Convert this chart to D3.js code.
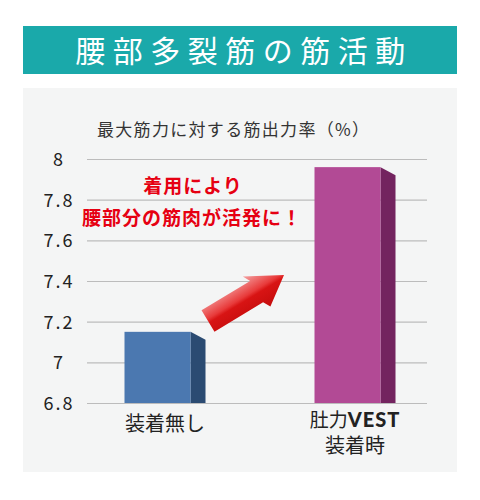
<!DOCTYPE html>
<html>
<head>
<meta charset="utf-8">
<script src="https://cdn.jsdelivr.net/npm/d3@7"></script>
<style>
  body { margin: 0; background: #fff; }
  svg { display: block; font-family: "Noto Sans CJK JP", "Noto Sans", sans-serif; }
</style>
</head>
<body>
<svg width="480" height="500"></svg>
<script>
// data
var categories = ['装着無し', '肚力VEST装着時'];
var values = [7.15, 7.96];
var frontColors = ['#4b78b0', '#b24a95'];
var sideColors = ['#2b4b72', '#73245f'];
var yTicks = [6.8, 7, 7.2, 7.4, 7.6, 7.8, 8];
var yTickLabels = ['6.8', '7', '7.2', '7.4', '7.6', '7.8', '8'];

var title = '腰部多裂筋の筋活動';
var subtitle = '最大筋力に対する筋出力率（%）';
var note = ['着用により', '腰部分の筋肉が活発に！'];

function drawChart() {
  var svg = d3.select('svg');
  svg.selectAll('*').remove();

  // title bar
  svg.append('rect')
    .attr('x', 23).attr('y', 26)
    .attr('width', 434).attr('height', 48)
    .attr('fill', '#1aa9aa');
  svg.append('text')
    .attr('x', 244).attr('y', 62)
    .attr('text-anchor', 'middle')
    .attr('fill', '#fff')
    .attr('font-size', 30)
    .attr('letter-spacing', 7.5)
    .text(title);

  // panel
  svg.append('rect')
    .attr('x', 23).attr('y', 88)
    .attr('width', 434).attr('height', 384)
    .attr('fill', '#f4f5f5');

  svg.append('text')
    .attr('x', 97).attr('y', 136)
    .attr('fill', '#333')
    .attr('font-size', 17)
    .attr('textLength', 272)
    .text(subtitle);

  var y = d3.scaleLinear()
    .domain([6.8, 8])
    .range([403, 159]);

  var x = d3.scaleBand()
    .domain(categories)
    .range([70, 450]);

  // grid + axis
  var axis = d3.axisLeft(y)
    .tickValues(yTicks)
    .tickFormat(function (d, i) {
      return yTickLabels[i];
    })
    .tickSize(-340)
    .tickPadding(0);
  var g = svg.append('g')
    .attr('transform', 'translate(87,0)')
    .call(axis);
  g.select('.domain').remove();
  g.selectAll('.tick line')
    .attr('stroke', '#bcbcbc')
    .attr('stroke-width', 1.2);
  g.selectAll('.tick text')
    .attr('x', -28)
    .attr('dy', '0.36em')
    .attr('text-anchor', 'middle')
    .attr('font-size', 18)
    .attr('letter-spacing', 2)
    .attr('font-family', '"Noto Sans CJK JP", sans-serif')
    .attr('fill', '#222');

  // bars (front + side)
  var frontW = 66;
  var depth = 15;
  var base = y(6.8);
  var bars = svg.append('g');
  values.forEach(function (v, i) {
    var left = x(categories[i]) + x.bandwidth() / 2 - (frontW + depth) / 2;
    var top = y(v);
    bars.append('polygon')
      .attr('points', [
        [left + frontW, top],
        [left + frontW + depth, top + 8],
        [left + frontW + depth, base],
        [left + frontW, base]
      ].join(' '))
      .attr('fill', sideColors[i]);
    bars.append('rect')
      .attr('x', left)
      .attr('y', top)
      .attr('width', frontW)
      .attr('height', base - top)
      .attr('fill', frontColors[i]);
  });

  // category labels
  var c0 = x(categories[0]) + x.bandwidth() / 2;
  var c1 = x(categories[1]) + x.bandwidth() / 2;
  svg.append('text')
    .attr('x', c0).attr('y', 431)
    .attr('text-anchor', 'middle')
    .attr('font-size', 20)
    .attr('fill', '#222')
    .text(categories[0]);
  var t1 = svg.append('text')
    .attr('x', c1).attr('y', 427)
    .attr('text-anchor', 'middle')
    .attr('fill', '#222');
  t1.append('tspan')
    .attr('font-size', 19)
    .text('肚力');
  t1.append('tspan')
    .attr('font-size', 20)
    .attr('font-weight', 900)
    .attr('font-family', 'Lato, "DejaVu Sans", sans-serif')
    .attr('letter-spacing', 1)
    .text('VEST');
  svg.append('text')
    .attr('x', c1).attr('y', 453)
    .attr('text-anchor', 'middle')
    .attr('font-size', 20)
    .attr('fill', '#222')
    .text('装着時');

  // red note
  svg.append('text')
    .attr('x', 193).attr('y', 193)
    .attr('text-anchor', 'middle')
    .attr('font-size', 19)
    .attr('font-weight', 'bold')
    .attr('letter-spacing', 1)
    .attr('fill', '#e60012')
    .text(note[0]);
  svg.append('text')
    .attr('x', 192).attr('y', 225)
    .attr('text-anchor', 'middle')
    .attr('font-size', 19)
    .attr('font-weight', 'bold')
    .attr('letter-spacing', 1)
    .attr('fill', '#e60012')
    .text(note[1]);

  // arrow
  var defs = svg.append('defs');
  var grad = defs.append('linearGradient')
    .attr('id', 'arrowGrad')
    .attr('x1', 0).attr('y1', 0)
    .attr('x2', 0).attr('y2', 1);
  grad.append('stop').attr('offset', '0%').attr('stop-color', '#f4a0a0');
  grad.append('stop').attr('offset', '45%').attr('stop-color', '#e83a3a');
  grad.append('stop').attr('offset', '55%').attr('stop-color', '#d81414');
  grad.append('stop').attr('offset', '100%').attr('stop-color', '#c40c0c');

  var tailX = 208, tailY = 321;
  var tipX = 284, tipY = 275;
  var len = Math.sqrt((tipX - tailX) * (tipX - tailX) + (tipY - tailY) * (tipY - tailY));
  var ang = Math.atan2(tipY - tailY, tipX - tailX) * 180 / Math.PI;
  var headLen = 32, shaftW = 12.5, headW = 20;
  svg.append('polygon')
    .attr('transform', 'translate(' + tailX + ',' + tailY + ') rotate(' + ang + ')')
    .attr('points', [
      [0, -shaftW],
      [len - headLen, -shaftW],
      [len - headLen - 4, -headW],
      [len, 0],
      [len - headLen + 4, headW],
      [len - headLen, shaftW],
      [0, shaftW]
    ].join(' '))
    .attr('fill', 'url(#arrowGrad)');
}

drawChart();
</script>
</body>
</html>
